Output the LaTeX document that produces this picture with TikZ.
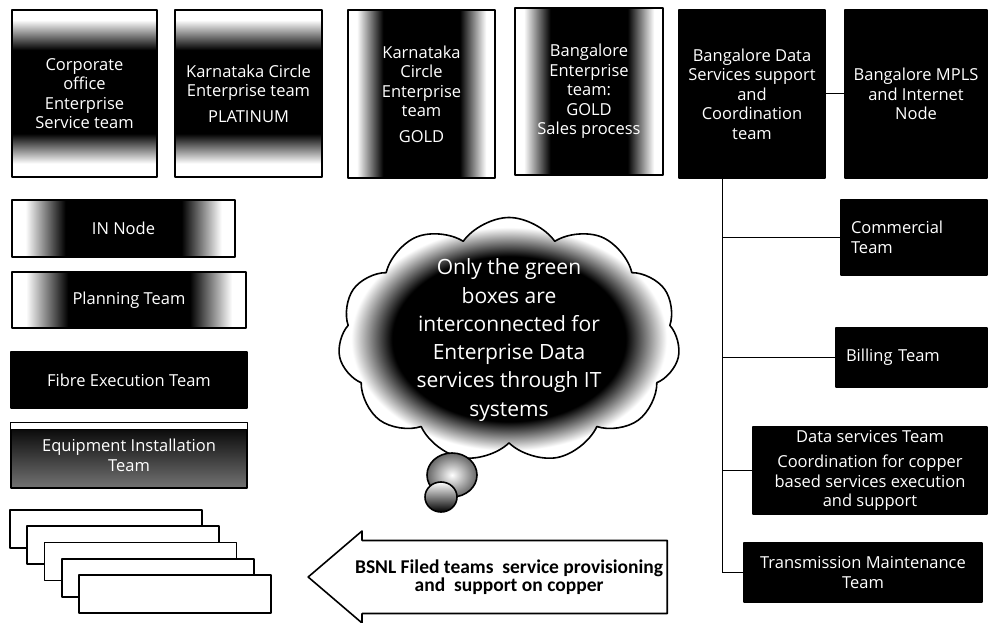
\documentclass[tikz,border=0pt]{standalone}
\usepackage{fontspec}
\newfontfamily\teamfont{Open Sans}
\newfontfamily\notefont{Carlito}
\usetikzlibrary{shapes.symbols,shapes.arrows}

\pgfdeclareverticalshading{band}{100bp}{color(0bp)=(white); color(29bp)=(white); color(38bp)=(black); color(63bp)=(black); color(72bp)=(white); color(100bp)=(white)}
\pgfdeclarehorizontalshading{strip}{100bp}{color(0bp)=(white); color(28bp)=(white); color(37bp)=(black); color(63bp)=(black); color(72bp)=(white); color(100bp)=(white)}
\pgfdeclareradialshading{haze}{\pgfpoint{0bp}{0bp}}{color(0bp)=(black); color(17bp)=(black); color(23bp)=(white); color(50bp)=(white)}

\tikzset{
	team/.style={draw=black, line width=1.6pt, text=white, align=center, inner sep=3pt,
		font=\teamfont\fontsize{16.5}{19.5}\selectfont},
	darkteam/.style={team, fill=black},
	bandteam/.style={team, shade, shading=band},
	stripteam/.style={team, shade, shading=strip},
	blank/.style={draw=black, line width=1.6pt, fill=white, minimum width=192pt, minimum height=38pt},
	link/.style={draw=black, line width=1pt},
}

\begin{document}
\begin{tikzpicture}[x=1pt, y=-1pt, line join=round, >=stealth]
	\useasboundingbox (0,0) rectangle (988,623);
	
	\node[bandteam, minimum width=145pt, minimum height=167pt] (corp) at (84.5,93.5)
		{Corporate\\office\\Enterprise\\Service team};
	\node[bandteam, minimum width=147pt, minimum height=167pt] (kcp) at (248.5,93.5)
		{Karnataka Circle\\Enterprise team\\[6pt]PLATINUM};
	\node[stripteam, minimum width=147pt, minimum height=168pt] (kcg) at (421.5,94)
		{Karnataka\\Circle\\Enterprise\\team\\[6pt]GOLD};
	\node[stripteam, minimum width=148pt, minimum height=167pt] (ble) at (589,91.5)
		{Bangalore\\Enterprise\\team:\\GOLD\\Sales process};
	\node[darkteam, minimum width=146pt, minimum height=168pt] (bds) at (752,94)
		{Bangalore Data\\Services support\\and\\Coordination\\team};
	\node[darkteam, minimum width=142pt, minimum height=168pt] (mpls) at (916,94)
		{Bangalore MPLS\\and Internet\\Node};
	
	\node[stripteam, minimum width=223pt, minimum height=57pt] (innode) at (123.5,228.5) {IN Node};
	\node[stripteam, minimum width=234pt, minimum height=56pt] (plan) at (129,300) {Planning Team};
	\node[darkteam, minimum width=236pt, minimum height=56pt] (fibre) at (129,380) {Fibre Execution Team};
	\node[team, top color=black, bottom color=black!55, minimum width=236pt, minimum height=65pt] (equip) at (129,455.5)
		{Equipment Installation\\Team};
	\draw[fill=white, line width=1pt] (equip.north west) rectangle ([yshift=-7pt]equip.north east);
	
	\foreach \i in {0,...,4}
	\node[blank] (pile\i) at (106+17.25*\i, 529+16.25*\i) {};
	
	\node[darkteam, align=left, text width=126pt, inner xsep=10pt, minimum height=75pt] (comm) at (914,237.5)
		{Commercial\\Team};
	\node[darkteam, align=left, text width=131pt, inner xsep=10pt, minimum height=59pt] (bill) at (911.5,357.5)
		{Billing Team};
	\node[darkteam, minimum width=234pt, minimum height=85pt] (dst) at (870,470.5)
		{Data services Team\\[6pt]Coordination for copper\\based services execution\\and support};
	\node[darkteam, minimum width=238pt, minimum height=59pt] (tm) at (863,572.5)
		{Transmission Maintenance\\Team};
	
	\coordinate (tk) at ([xshift=-30pt]bds.south);
	\draw[link] (bds) -- (mpls);
	\draw[link] (tk) -- (tk |- tm.west);
	\foreach \t in {comm,bill,dst,tm}
	\draw[link] (tk |- \t.west) -- (\t.west);
	
	\node[cloud, cloud ignores aspect, cloud puffs=11, cloud puff arc=110, draw=black, line width=1.6pt,
		shade, shading=haze, inner sep=0pt, minimum width=342pt, minimum height=245pt] (note) at (509,340) {};
	\node[text=white, align=center, font=\teamfont\fontsize{21}{28.3}\selectfont] (notetext) at (note.center)
		{Only the green\\boxes are\\interconnected for\\Enterprise Data\\services through IT\\systems};
	\draw[line width=1.6pt, inner color=white, outer color=black!60] (452,475) ellipse [x radius=25, y radius=22];
	\draw[line width=1.6pt, top color=white, bottom color=black] (441,497) ellipse [x radius=16, y radius=15];
	
	\node[single arrow, shape border rotate=180, draw=black, line width=1.6pt, fill=white,
		minimum height=355pt, minimum width=92pt, single arrow tip angle=81, inner ysep=9pt,
		anchor=tail, align=center, font=\notefont\bfseries\fontsize{19.5}{18.5}\selectfont] (field) at (668,577)
		{BSNL Filed teams~ service provisioning\\and~ support on copper};
\end{tikzpicture}
\end{document}
